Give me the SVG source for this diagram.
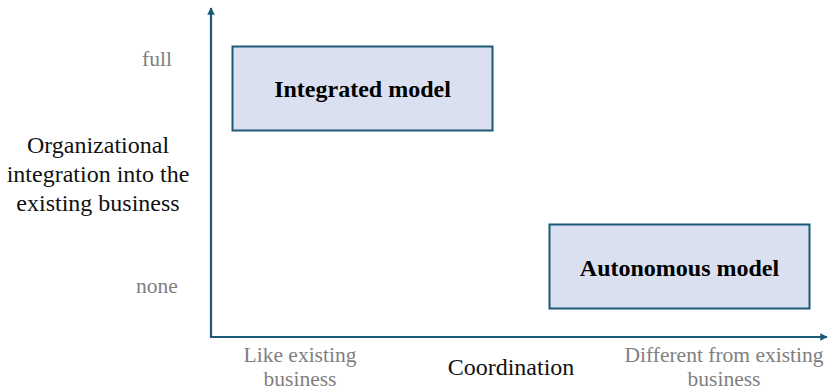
<svg xmlns="http://www.w3.org/2000/svg" width="828" height="390" viewBox="0 0 828 390">
  <style>
    .box { fill: #dae0ef; stroke: #1d5a78; stroke-width: 2; }
    .axis { stroke: #1d5a78; stroke-width: 2.2; fill: none; }
    .title { font-family: "Liberation Serif", "Times New Roman", serif; font-weight: bold; font-size: 24px; fill: #000; text-anchor: middle; }
    .label { font-family: "Liberation Serif", "Times New Roman", serif; font-size: 24px; fill: #111; text-anchor: middle; }
    .tick { font-family: "Liberation Serif", "Times New Roman", serif; font-size: 21.5px; fill: #7f7f7f; text-anchor: middle; }
  </style>
  <defs>
    <marker id="arrow" viewBox="0 0 10 10" refX="9" refY="5" markerWidth="3.4" markerHeight="3.4" orient="auto">
      <path d="M0,0 L10,5 L0,10 z" fill="#1d5a78"/>
    </marker>
  </defs>
  <rect width="828" height="390" fill="#ffffff"/>

  <!-- axes -->
  <g id="connectors">
    <line class="axis" x1="211" y1="338" x2="211" y2="8" marker-end="url(#arrow)"/>
    <line class="axis" x1="210" y1="337" x2="827" y2="337" marker-end="url(#arrow)"/>
  </g>

  <!-- quadrant boxes -->
  <g id="integrated">
    <rect class="box" x="232.5" y="46.5" width="260" height="84"/>
    <text class="title" x="362.5" y="97">Integrated model</text>
  </g>
  <g id="autonomous">
    <rect class="box" x="549.5" y="224.5" width="260" height="84"/>
    <text class="title" x="679.5" y="276">Autonomous model</text>
  </g>

  <!-- vertical axis labels -->
  <g id="y-axis-title">
    <text class="label" x="98" y="153">Organizational</text>
    <text class="label" x="98" y="182">integration into the</text>
    <text class="label" x="98" y="211">existing business</text>
  </g>
  <g id="y-ticks">
    <text class="tick" x="157" y="66">full</text>
    <text class="tick" x="157" y="293">none</text>
  </g>

  <!-- horizontal axis labels -->
  <g id="x-axis-title">
    <text class="label" x="511" y="375">Coordination</text>
  </g>
  <g id="x-ticks">
    <text class="tick" x="300" y="362">Like existing</text>
    <text class="tick" x="300" y="386">business</text>
    <text class="tick" x="724" y="362">Different from existing</text>
    <text class="tick" x="724" y="386">business</text>
  </g>
</svg>
